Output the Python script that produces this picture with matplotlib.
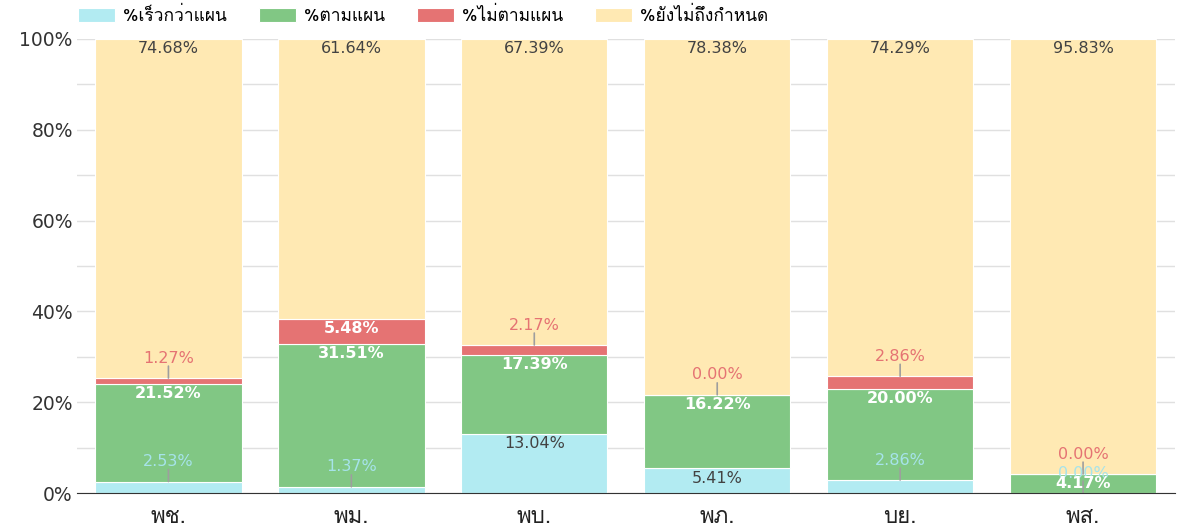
import numpy as np
import matplotlib
matplotlib.use('Agg')
import matplotlib.pyplot as plt
from matplotlib import font_manager
from matplotlib.ft2font import FT2Font

months = ['พช.', 'พม.', 'พบ.', 'พภ.', 'บย.', 'พส.']
series_names = ['%เร็วกว่าแผน', '%ตามแผน', '%ไม่ตามแผน', '%ยังไม่ถึงกำหนด']
faster = [2.53, 1.37, 13.04, 5.41, 2.86, 0.00]
on_plan = [21.52, 31.51, 17.39, 16.22, 20.00, 4.17]
off_plan = [1.27, 5.48, 2.17, 0.00, 2.86, 0.00]
not_due = [74.68, 61.64, 67.39, 78.38, 74.29, 95.83]

colors = ['#b2ebf2', '#81c784', '#e57373', '#ffe9b3']
inside_text = ['#424242', 'white', 'white', '#424242']
outside_text = ['#a6e3ea', '#81c784', '#e57373', '#424242']


# find a font that can draw Thai
def thai_font():
    for f in font_manager.fontManager.ttflist:
        try:
            if 0x0E1E in FT2Font(f.fname).get_charmap():
                return f.name
        except Exception:
            pass
    return None


th = thai_font()
thai_fams = ([th] if th else []) + ['DejaVu Sans']
plt.rcParams['font.family'] = ['DejaVu Sans']

fig = plt.figure(figsize=(11.84, 5.27), dpi=100)
ax = fig.add_axes([0.065, 0.0645, 0.927, 0.8615])

x = np.arange(len(months))
data = [faster, on_plan, off_plan, not_due]
bottom = np.zeros(len(months))
handles = []
for i, vals in enumerate(data):
    vals = np.array(vals)
    b = ax.bar(x, vals, 0.8, bottom=bottom, color=colors[i], edgecolor='white',
               linewidth=0.8, label=series_names[i], zorder=2)
    handles.append(b)
    tops = bottom + vals
    for j in range(len(months)):
        txt = '%.2f%%' % vals[j]
        if vals[j] >= 4:
            # big enough segment: label inside, just under its top
            ax.annotate(txt, (x[j], tops[j]), xytext=(0, -7), textcoords='offset points',
                        ha='center', va='center', fontsize=11.5, color=inside_text[i],
                        fontweight='bold' if inside_text[i] == 'white' else 'normal', zorder=4)
        else:
            # thin segment: label above with a small leader line
            ax.annotate('', xy=(x[j], tops[j]), xytext=(0, 8.6), textcoords='offset points',
                        arrowprops=dict(arrowstyle='-', color='#9e9e9e', lw=1.2,
                                        shrinkA=0, shrinkB=0), zorder=3)
            ax.annotate(txt, (x[j], tops[j]), xytext=(0, 14.4), textcoords='offset points',
                        ha='center', va='center', fontsize=11.5, color=outside_text[i], zorder=4)
    bottom = tops

ax.set_xlim(-0.5, 5.5)
ax.set_ylim(0, 100)
ax.set_yticks(np.arange(0, 101, 10), minor=True)
ax.set_yticks(np.arange(0, 101, 20))
ax.set_yticklabels(['%d%%' % v for v in range(0, 101, 20)], fontsize=13.5, color='#333333')
ax.grid(axis='y', which='both', color='#e0e0e0', lw=1, zorder=0)
ax.tick_params(axis='y', which='both', length=0, pad=3)
ax.set_xticks(x)
ax.set_xticklabels(months, fontsize=16, color='#222222', family=thai_fams)
ax.tick_params(axis='x', length=0, pad=10)
for s in ['top', 'right', 'left']:
    ax.spines[s].set_visible(False)
ax.spines['bottom'].set_color('#333333')
ax.spines['bottom'].set_zorder(5)

fig.legend(handles=handles, labels=series_names, loc='center left',
           bbox_to_anchor=(78 / 1184, 1 - 16 / 527), ncol=4, frameon=False,
           prop={'family': thai_fams, 'size': 12.5}, handlelength=2.13, handleheight=0.86,
           columnspacing=1.84, borderpad=0, borderaxespad=0, handletextpad=0.46)

fig.savefig('out.png', dpi=100)
